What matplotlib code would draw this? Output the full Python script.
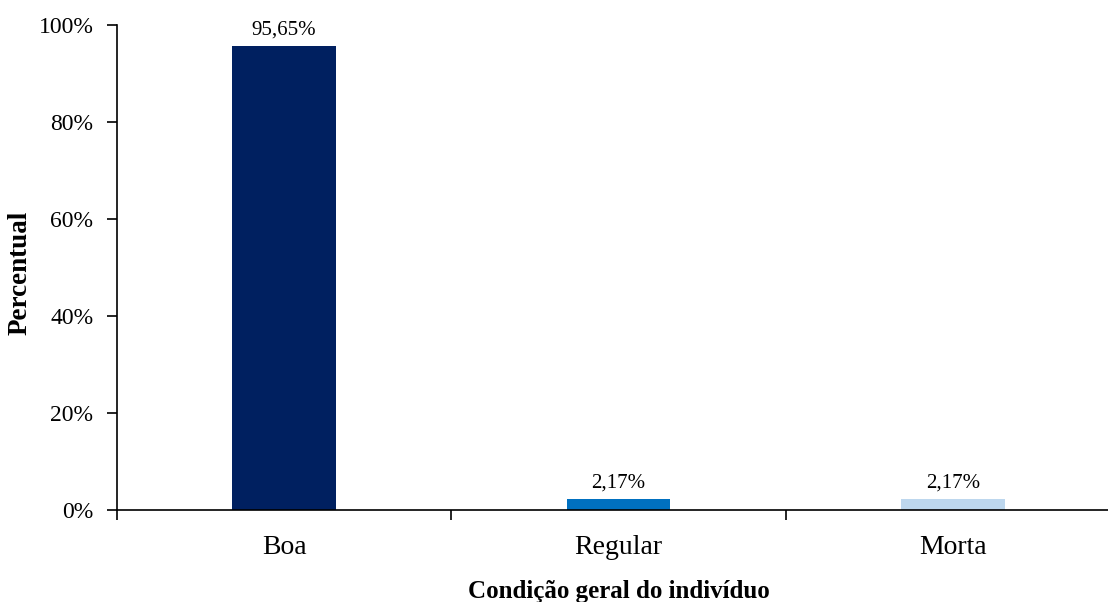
import matplotlib
matplotlib.use("Agg")
from matplotlib import pyplot as plt

categorias = ["Boa", "Regular", "Morta"]
percentuais = [95.65, 2.17, 2.17]
rotulos = ["95,65%", "2,17%", "2,17%"]
cores = ["#002060", "#0070C0", "#BDD7EE"]
yticks = [0, 20, 40, 60, 80, 100]

plt.rcParams["font.family"] = ["Liberation Serif", "DejaVu Serif"]

fig = plt.figure(figsize=(11.08, 6.02), dpi=100)
ax = fig.add_axes([117 / 1108, 92 / 602, 1003 / 1108, 485 / 602])

x = list(range(len(categorias)))
bars = ax.bar(x, percentuais, width=0.31, color=cores)

for xi, v, lab in zip(x, percentuais, rotulos):
    ax.annotate(lab, (xi, v), xytext=(0, 5), textcoords="offset points",
                ha="center", va="bottom", fontsize=15)

ax.set_xlim(-0.5, 2.5)
ax.set_ylim(0, 100)
ax.set_yticks(yticks)
ax.set_yticklabels([f"{t}%" for t in yticks], fontsize=17)

# category names centred, tick marks on the boundaries
ax.set_xticks(x)
ax.set_xticklabels(categorias, fontsize=20)
ax.tick_params(axis="x", length=0, pad=18)
ax.set_xticks([-0.5, 0.5, 1.5, 2.5], minor=True)
ax.tick_params(axis="x", which="minor", length=7, width=1.2, direction="out")
ax.tick_params(axis="y", length=7, width=1.2, direction="out", pad=10)

for s in ["top", "right"]:
    ax.spines[s].set_visible(False)
for s in ["left", "bottom"]:
    ax.spines[s].set_linewidth(1.2)

fig.text(20 / 1108, 1 - 273 / 602, "Percentual", rotation=90, fontsize=19.5,
         fontweight="bold", ha="center", va="center")
fig.text(619 / 1108, 1 - 598 / 602, "Condição geral do indivíduo", fontsize=18,
         fontweight="bold", ha="center", va="baseline")

fig.savefig("out.png", dpi=100)
